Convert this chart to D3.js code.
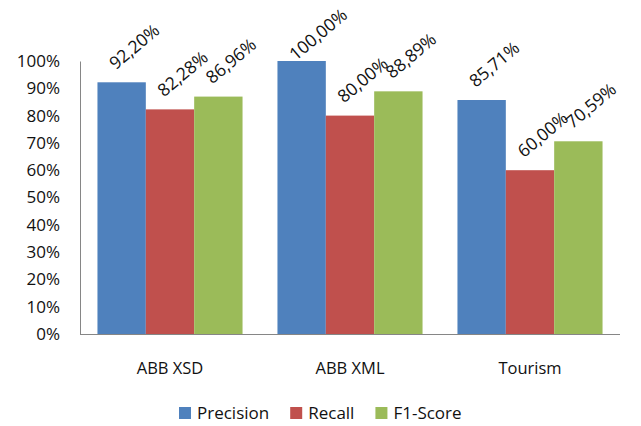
<!DOCTYPE html>
<html>
<head>
<meta charset="utf-8">
<script src="https://cdn.jsdelivr.net/npm/d3@7"></script>
<style>
  body { margin: 0; background: #fff; }
  text { font-family: "Open Sans", sans-serif; fill: #111; }
</style>
</head>
<body>
<script>
// Width and Height
const w = 641;
const h = 426;

// data
const categories = ["ABB XSD", "ABB XML", "Tourism"];
const seriesNames = ["Precision", "Recall", "F1-Score"];
const precision = [92.20, 100.00, 85.71];
const recall = [82.28, 80.00, 60.00];
const f1score = [86.96, 88.89, 70.59];
const yTicks = [0, 10, 20, 30, 40, 50, 60, 70, 80, 90, 100];

const colors = ["#4F81BD", "#C0504D", "#9BBB59"];
const seriesValues = [precision, recall, f1score];

// plot area
const plotLeft = 80, plotRight = 620, plotTop = 61, plotBottom = 334;
const angle = 40;

const svg = d3.select("body")
    .append("svg")
    .attr("width", w)
    .attr("height", h);

const x0 = d3.scaleBand()
    .domain(categories)
    .range([plotLeft, plotRight])
    .paddingInner(0.194)
    .paddingOuter(0.097);

const x1 = d3.scaleBand()
    .domain(seriesNames)
    .range([0, x0.bandwidth()]);

const y = d3.scaleLinear()
    .domain([0, 100])
    .range([plotBottom, plotTop]);

// y axis
const yAxis = d3.axisLeft(y)
    .tickValues(yTicks)
    .tickSize(0)
    .tickPadding(20)
    .tickFormat(d => d + "%");

const yg = svg.append("g")
    .attr("transform", "translate(" + plotLeft + ",0)")
    .call(yAxis);
yg.select(".domain").attr("stroke", "#868686");
yg.selectAll("text")
    .style("font-size", "17px")
    .style("font-family", "'Open Sans', sans-serif")
    .attr("fill", "#111");

// bars, one group per category
const groups = svg.selectAll("g.cat")
    .data(categories)
    .enter()
    .append("g")
    .attr("class", "cat")
    .attr("transform", d => "translate(" + x0(d) + ",0)");

const barData = (c, i) => seriesNames.map((s, j) => ({ s: s, v: seriesValues[j][i], color: colors[j] }));

groups.selectAll("rect")
    .data(barData)
    .enter()
    .append("rect")
    .attr("x", d => x1(d.s))
    .attr("y", d => y(d.v))
    .attr("width", x1.bandwidth())
    .attr("height", d => plotBottom - y(d.v))
    .attr("fill", d => d.color);

// value labels, rotated, text starts just left of the bar centre
const fmt = v => v.toFixed(2).replace(".", ",") + "%";
const rad = angle * Math.PI / 180;
groups.selectAll("text.val")
    .data(barData)
    .enter()
    .append("text")
    .attr("class", "val")
    .style("font-size", "17.5px")
    .text(d => fmt(d.v))
    .each(function(d) {
        const len = this.getComputedTextLength();
        const tx = x1(d.s) + x1.bandwidth() / 2 - 6;
        let ty = y(d.v) - 12;
        // keep the label inside the picture, like excel does
        const topEdge = ty - len * Math.sin(rad) - 12;
        if (topEdge < 5) ty += 5 - topEdge;
        d3.select(this).attr("transform", "translate(" + tx + "," + ty + ") rotate(" + (-angle) + ")");
    });

// x axis line
svg.append("line")
    .attr("x1", plotLeft)
    .attr("x2", plotRight)
    .attr("y1", plotBottom + 0.5)
    .attr("y2", plotBottom + 0.5)
    .attr("stroke", "#868686");

// category labels
svg.selectAll("text.catlabel")
    .data(categories)
    .enter()
    .append("text")
    .attr("class", "catlabel")
    .attr("x", d => x0(d) + x0.bandwidth() / 2)
    .attr("y", 374)
    .attr("text-anchor", "middle")
    .style("font-size", "16.5px")
    .text(d => d);

// legend
let lx = 179;
seriesNames.forEach((s, j) => {
    svg.append("rect")
        .attr("x", lx)
        .attr("y", 407)
        .attr("width", 12)
        .attr("height", 12)
        .attr("fill", colors[j]);
    const t = svg.append("text")
        .attr("x", lx + 18)
        .attr("y", 419)
        .style("font-size", "17px")
        .text(s);
    lx += 18 + t.node().getComputedTextLength() + 21;
});
</script>
</body>
</html>
